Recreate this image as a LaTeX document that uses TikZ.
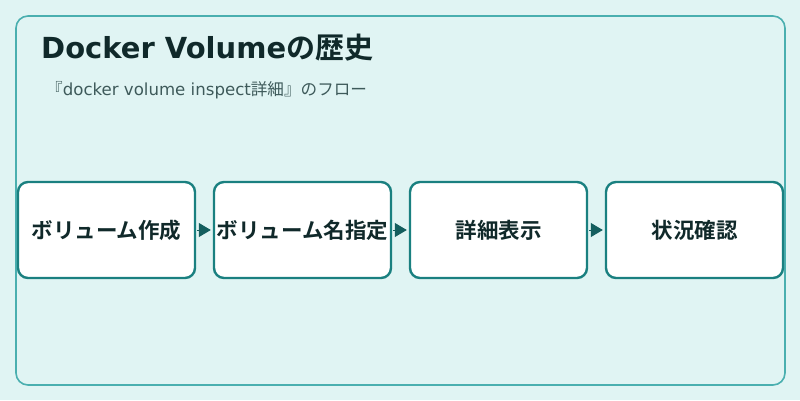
\documentclass[tikz,border=0pt]{standalone}
\usepackage{fontspec}
\setmainfont{Noto Sans CJK JP}
\newfontfamily\titlefont{Noto Sans CJK JP Bold}
\newfontfamily\latinfont{DejaVu Sans}
\usetikzlibrary{positioning}
\usetikzlibrary{arrows.meta}
\definecolor{bgteal}{HTML}{E0F4F3}
\definecolor{frameteal}{HTML}{4AAFAF}
\definecolor{boxteal}{HTML}{1A8080}
\definecolor{tipteal}{HTML}{145E5E}
\definecolor{inkdark}{HTML}{10292A}
\definecolor{subgray}{HTML}{3E5A5A}
\tikzstyle{stepbox} = [rectangle, rounded corners=10pt, minimum width=177pt, minimum height=96pt, line width=2.4pt, draw=boxteal, fill=white, text=inkdark, font=\titlefont\fontsize{21.5pt}{24pt}\selectfont, inner sep=0pt]
\tikzstyle{flowarrow} = [draw=tipteal, line width=1pt, -{Triangle[length=12pt,width=14pt]}, tipteal, shorten <=1pt, shorten >=2pt]

\begin{document}
\begin{tikzpicture}[x=1pt,y=-1pt]
      \fill[bgteal] (0,0) rectangle (800,400);
      \useasboundingbox (0,0) rectangle (800,400);
      \draw[frameteal, line width=1.6pt, rounded corners=12pt] (16,16) rectangle (785,385);
      % title
      \node[anchor=base west, inner sep=0pt, text=inkdark, font=\titlefont\fontsize{29pt}{34pt}\selectfont] (title) at (41,58) {{\latinfont\bfseries Docker Volume}の歴史};
      \node[anchor=base west, inner sep=0pt, text=subgray, font=\fontsize{16.6pt}{19pt}\selectfont] (subtitle) at (46,95) {『{\latinfont docker volume inspect}詳細』のフロー};
      % steps
      \node[stepbox] (s1) at (106.5,230) {ボリューム作成};
      \node[stepbox] (s2) at (302.5,230) {ボリューム名指定};
      \node[stepbox] (s3) at (498.5,230) {詳細表示};
      \node[stepbox] (s4) at (694.5,230) {状況確認};
      %\draw (s1)--(s4);
      \draw[flowarrow] (s1.east)--(s2.west);
      \draw[flowarrow] (s2.east)--(s3.west);
      \draw[flowarrow] (s3.east)--(s4.west);
\end{tikzpicture}
\end{document}
